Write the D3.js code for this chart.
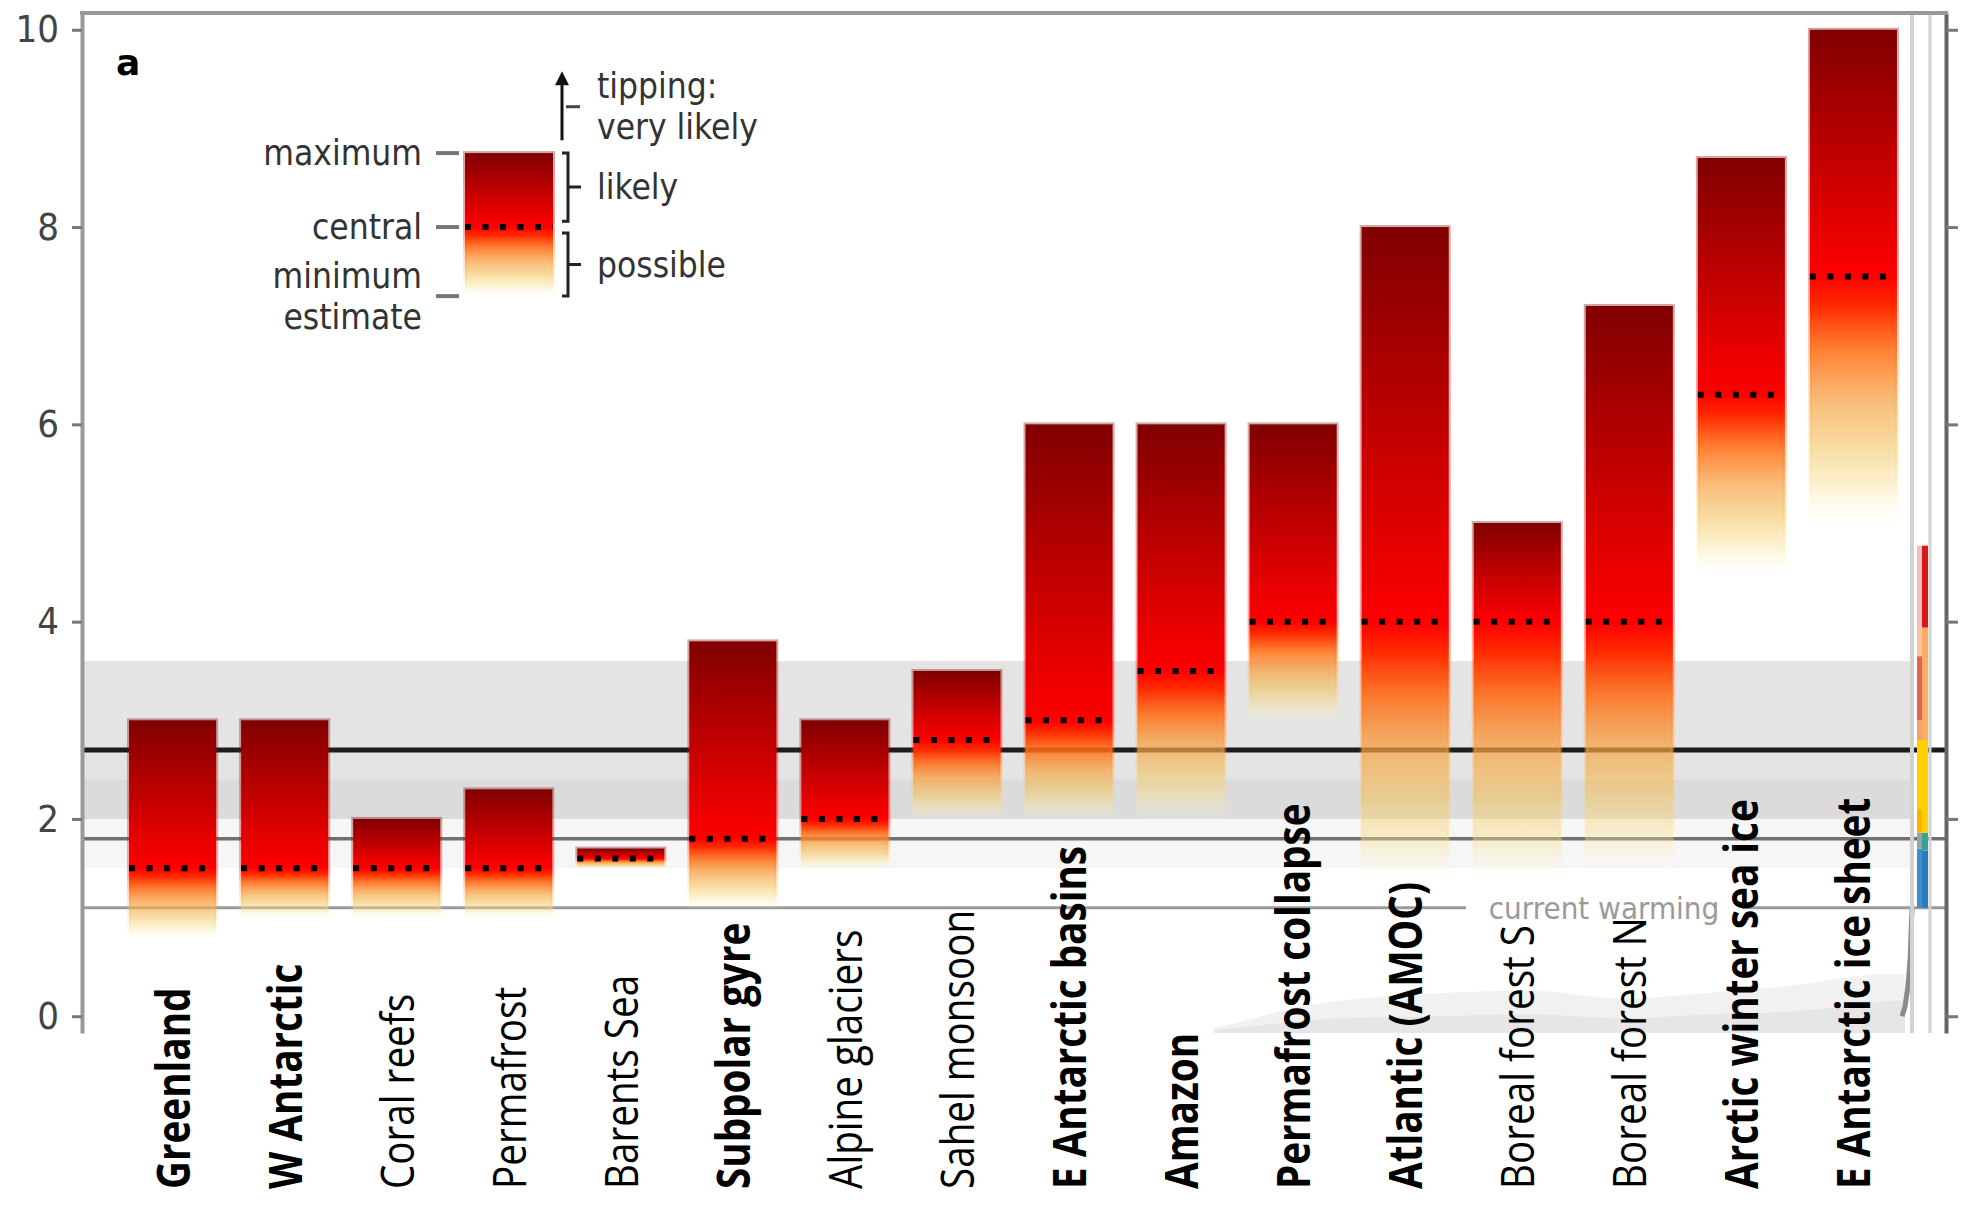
<!DOCTYPE html>
<html>
<head>
<meta charset="utf-8">
<script src="https://cdn.jsdelivr.net/npm/d3@7"></script>
<style>
  html, body { margin: 0; padding: 0; background: #fff; }
  svg { display: block; }
</style>
</head>
<body>
<svg id="chart" width="1970" height="1207"></svg>
<script>
// Tipping elements and their warming thresholds (°C above pre-industrial)
const elements = ["Greenland", "W Antarctic", "Coral reefs", "Permafrost", "Barents Sea",
  "Subpolar gyre", "Alpine glaciers", "Sahel monsoon", "E Antarctic basins", "Amazon",
  "Permafrost collapse", "Atlantic (AMOC)", "Boreal forest S", "Boreal forest N",
  "Arctic winter sea ice", "E Antarctic ice sheet"];
const thresholdMin     = [0.8, 1.0, 1.0, 1.0, 1.5, 1.1, 1.5, 2.0, 2.0, 2.0, 3.0, 1.4, 1.4, 1.5, 4.5, 5.0];
const thresholdCentral = [1.5, 1.5, 1.5, 1.5, 1.6, 1.8, 2.0, 2.8, 3.0, 3.5, 4.0, 4.0, 4.0, 4.0, 6.3, 7.5];
const thresholdMax     = [3.0, 3.0, 2.0, 2.3, 1.7, 3.8, 3.0, 3.5, 6.0, 6.0, 6.0, 8.0, 5.0, 7.2, 8.7, 10.0];
// Global core elements get bold labels
const globalCore = [true, true, false, false, false, true, false, false, true, true, true, true, false, false, true, true];
const yTicks = [0, 2, 4, 6, 8, 10];

// Warming reference levels
const currentWarming = 1.1;
const policyWarming = 2.7;
const pledgeWarming = 1.8;
const policyRange = [2.0, 3.6];
const parisRange = [1.5, 2.4];

// Holocene temperature envelope (age in ka BP) and observed recent rise
const holoceneAge        = [12, 11.3, 10.6, 9.8, 8.2, 6.6, 5.0, 3.4, 1.8, 1.0, 0.2, 0.12];
const holoceneUpper      = [-0.12, -0.02, 0.09, 0.16, 0.23, 0.26, 0.18, 0.24, 0.33, 0.40, 0.43, 0.40];
const holoceneInnerUpper = [-0.14, -0.10, -0.05, -0.02, 0.00, 0.02, -0.02, 0.02, 0.06, 0.11, 0.16, 0.16];
const holoceneLower      = [-0.18, -0.18, -0.18, -0.18, -0.18, -0.18, -0.18, -0.18, -0.18, -0.18, -0.18, -0.18];
const observedAge  = [0.17, 0.12, 0.07, 0.03, 0.0];
const observedTemp = [0.0, 0.1, 0.3, 0.6, 1.1];

// Projected end-of-century warming ranges, two scenario columns [low, high]
const projectionA = [[1.1, 1.7], [1.7, 1.86], [1.86, 2.1], [2.1, 2.8], [2.8, 3.0], [3.0, 3.65], [3.65, 3.94], [3.94, 4.77]];
const projectionB = [[1.1, 1.68], [1.68, 1.86], [1.86, 2.8], [2.8, 3.94], [3.94, 4.77]];

// Legend bar estimates
const legendMax = 8.75, legendCentral = 8.0, legendMin = 7.3;

// ---------------------------------------------------------------
const svg = d3.select("#chart");
const defs = svg.append("defs");

const plotLeft = 82, plotRight = 1946, plotTop = 13, plotBottom = 1033;
const innerRight = 1912;

const y = d3.scaleLinear().domain([-0.17, 10.17]).range([plotBottom, plotTop]);
const x = d3.scaleBand().domain(elements).range([plotLeft, 1944]).paddingInner(0.223).paddingOuter(0.42);
const ageX = d3.scaleLinear().domain([12, 0]).range([1214, innerRight]);

defs.append("clipPath").attr("id", "plotClip")
  .append("rect").attr("x", plotLeft).attr("y", plotTop)
  .attr("width", plotRight - plotLeft).attr("height", plotBottom - plotTop);

const projAColors = ["#3f8fd0", "#8fa6a8", "#ffb000", "#ffd000", "#f5a070", "#e5604f", "#f7c4a0", "#f4bcbc"];
const projBColors = ["#2b7bba", "#3aa092", "#ffd000", "#fdae61", "#d7191c"];

// lower half of each bar: red fading through orange to pale yellow, increasingly transparent
const lowerStops = [
  [0.00, "#ff0000", 1.0],
  [0.12, "#ff2a00", 1.0],
  [0.30, "#ff6a10", 0.85],
  [0.50, "#f7a040", 0.72],
  [0.70, "#f2c460", 0.58],
  [0.85, "#f8e090", 0.42],
  [1.00, "#fff8d0", 0.06]
];

function addGradient(id, lo, mid, hi) {
  const g = defs.append("linearGradient").attr("id", id)
    .attr("gradientUnits", "userSpaceOnUse")
    .attr("x1", 0).attr("x2", 0).attr("y1", y(hi)).attr("y2", y(lo));
  const fc = (y(mid) - y(hi)) / (y(lo) - y(hi));
  g.append("stop").attr("offset", 0).attr("stop-color", "#800000");
  g.append("stop").attr("offset", fc).attr("stop-color", "#ff0000");
  lowerStops.forEach(([f, c, a]) => {
    g.append("stop").attr("offset", fc + f * (1 - fc)).attr("stop-color", c).attr("stop-opacity", a);
  });
}

const plot = svg.append("g").attr("clip-path", "url(#plotClip)");

// shaded warming ranges
plot.append("rect").attr("x", plotLeft).attr("width", innerRight - plotLeft)
  .attr("y", y(policyRange[1])).attr("height", y(policyRange[0]) - y(policyRange[1]))
  .attr("fill", "#000").attr("fill-opacity", 0.105);
plot.append("rect").attr("x", plotLeft).attr("width", innerRight - plotLeft)
  .attr("y", y(parisRange[1])).attr("height", y(parisRange[0]) - y(parisRange[1]))
  .attr("fill", "#000").attr("fill-opacity", 0.035);

// Holocene record
const holoceneArea = d3.area().x((d, i) => ageX(holoceneAge[i])).y0((d, i) => y(holoceneLower[i])).y1(d => y(d)).curve(d3.curveMonotoneX);
plot.append("path").attr("d", holoceneArea(holoceneUpper)).attr("fill", "#f1f1f1");
plot.append("path").attr("d", holoceneArea(holoceneInnerUpper)).attr("fill", "#e6e6e6");

// reference lines
function hline(v, color, width) {
  plot.append("line").attr("x1", plotLeft).attr("x2", plotRight)
    .attr("y1", y(v)).attr("y2", y(v)).attr("stroke", color).attr("stroke-width", width);
}
hline(currentWarming, "#9a9a9a", 3);
hline(pledgeWarming, "#707070", 3.5);
hline(policyWarming, "#1c1c1c", 5);

// observed rise to present
plot.append("path")
  .attr("d", d3.line().x((d, i) => ageX(observedAge[i])).y(d => y(d))(observedTemp))
  .attr("fill", "none").attr("stroke", "#8a8a8a").attr("stroke-width", 5);

// inner frame lines on the right
[[innerRight, "#d2d2d2", 4], [1930, "#d2d2d2", 3]].forEach(([xx, c, w]) => {
  svg.append("line").attr("x1", xx).attr("x2", xx).attr("y1", plotTop).attr("y2", plotBottom)
    .attr("stroke", c).attr("stroke-width", w);
});

// projected warming columns
svg.append("g").selectAll("rect").data(projectionA).join("rect")
  .attr("x", 1917).attr("width", 5)
  .attr("y", d => y(d[1])).attr("height", d => y(d[0]) - y(d[1]))
  .attr("fill", (d, i) => projAColors[i]);
svg.append("g").selectAll("rect").data(projectionB).join("rect")
  .attr("x", 1922).attr("width", 6)
  .attr("y", d => y(d[1])).attr("height", d => y(d[0]) - y(d[1]))
  .attr("fill", (d, i) => projBColors[i]);

// threshold bars
const bars = svg.append("g");
elements.forEach((name, i) => {
  const id = "grad" + i;
  addGradient(id, thresholdMin[i], thresholdCentral[i], thresholdMax[i]);
  const x0 = x(name), bw = x.bandwidth();
  bars.append("rect")
    .attr("x", x0).attr("width", bw)
    .attr("y", y(thresholdMax[i])).attr("height", y(thresholdMin[i]) - y(thresholdMax[i]))
    .attr("fill", `url(#${id})`)
    .attr("stroke", `url(#${id})`).attr("stroke-opacity", 0.35).attr("stroke-width", 4);
  bars.append("line")
    .attr("x1", x0).attr("x2", x0 + bw)
    .attr("y1", y(thresholdCentral[i])).attr("y2", y(thresholdCentral[i]))
    .attr("stroke", "#000").attr("stroke-width", 6).attr("stroke-dasharray", "6 11.5");
});

// "current warming" label
const cwX = 1604;
svg.append("rect").attr("x", cwX - 138).attr("width", 276)
  .attr("y", y(currentWarming) - 17).attr("height", 34).attr("fill", "#fff");
svg.append("text").attr("x", cwX).attr("y", y(currentWarming)).attr("dy", "0.36em")
  .attr("text-anchor", "middle")
  .attr("font-family", "'DejaVu Sans Condensed', 'DejaVu Sans', sans-serif")
  .attr("font-stretch", "condensed")
  .attr("font-size", 31).attr("fill", "#9a9a9a").text("current warming");

// category labels
svg.append("g").selectAll("text").data(elements).join("text")
  .attr("transform", d => `translate(${x(d) + x.bandwidth() / 2},1189) rotate(-90) scale(0.84,1)`)
  .attr("x", 0).attr("y", 17)
  .attr("font-family", "'Open Sans', 'Noto Sans', sans-serif")
  .attr("font-size", 46)
  .attr("font-weight", (d, i) => globalCore[i] ? 700 : 400)
  .attr("fill", "#000")
  .text(d => d);

// axes
const axisFont = "'DejaVu Sans Condensed', 'DejaVu Sans', sans-serif";
const leftAxis = svg.append("g").attr("transform", `translate(${plotLeft},0)`)
  .call(d3.axisLeft(y).tickValues(yTicks).tickSize(10).tickPadding(13).tickSizeOuter(0));
leftAxis.select(".domain").attr("stroke", "#999").attr("stroke-width", 4);
leftAxis.selectAll(".tick line").attr("stroke", "#777").attr("stroke-width", 3);
leftAxis.selectAll(".tick text").attr("font-family", axisFont).attr("font-stretch", "condensed")
  .attr("font-size", 38).attr("fill", "#444");

const rightAxis = svg.append("g").attr("transform", `translate(${plotRight},0)`)
  .call(d3.axisRight(y).tickValues(yTicks).tickSize(12).tickFormat("").tickSizeOuter(0));
rightAxis.select(".domain").attr("stroke", "#666").attr("stroke-width", 4);
rightAxis.selectAll(".tick line").attr("stroke", "#777").attr("stroke-width", 3);

svg.append("line").attr("x1", plotLeft - 2).attr("x2", plotRight + 2)
  .attr("y1", plotTop).attr("y2", plotTop).attr("stroke", "#999").attr("stroke-width", 4);

// panel letter
svg.append("text").attr("x", 116).attr("y", 75)
  .attr("font-family", "'DejaVu Sans', sans-serif").attr("font-weight", 700)
  .attr("font-size", 36).attr("fill", "#000").text("a");

// legend
const lg = svg.append("g");
const lgX = 465, lgW = 88;
const lgFont = "'DejaVu Sans Condensed', 'DejaVu Sans', sans-serif";
addGradient("gradLegend", legendMin, legendCentral, legendMax);
lg.append("rect").attr("x", lgX).attr("width", lgW)
  .attr("y", y(legendMax)).attr("height", y(legendMin) - y(legendMax))
  .attr("fill", "url(#gradLegend)")
  .attr("stroke", "url(#gradLegend)").attr("stroke-opacity", 0.35).attr("stroke-width", 4);
lg.append("line").attr("x1", lgX).attr("x2", lgX + lgW)
  .attr("y1", y(legendCentral)).attr("y2", y(legendCentral))
  .attr("stroke", "#000").attr("stroke-width", 6).attr("stroke-dasharray", "6 11.5");

[legendMax, legendCentral, legendMin].forEach(v => {
  lg.append("line").attr("x1", 436).attr("x2", 459).attr("y1", y(v)).attr("y2", y(v))
    .attr("stroke", "#777").attr("stroke-width", 4);
});

function lgText(tx, ty, str, anchor) {
  lg.append("text").attr("x", tx).attr("y", ty).attr("dy", "0.35em")
    .attr("text-anchor", anchor)
    .attr("font-family", lgFont).attr("font-stretch", "condensed")
    .attr("font-size", 35).attr("fill", "#333").text(str);
}
lgText(422, y(legendMax), "maximum", "end");
lgText(422, y(legendCentral), "central", "end");
lgText(422, y(legendMin) - 20.5, "minimum", "end");
lgText(422, y(legendMin) + 20.5, "estimate", "end");

function bracket(v1, v2) {
  const y1 = y(v1), y2 = y(v2), ym = (y1 + y2) / 2;
  lg.append("path").attr("d", `M562,${y1}H568V${y2}H562M568,${ym}H581`)
    .attr("fill", "none").attr("stroke", "#222").attr("stroke-width", 3);
  return ym;
}
const likelyY = bracket(legendMax, legendCentral + 0.06);
const possibleY = bracket(legendCentral - 0.06, legendMin);
lgText(597, likelyY, "likely", "start");
lgText(597, possibleY, "possible", "start");

// tipping arrow
const arrowBase = y(8.88), arrowTip = y(9.56);
lg.append("line").attr("x1", 562).attr("x2", 562).attr("y1", arrowBase).attr("y2", arrowTip + 10)
  .attr("stroke", "#111").attr("stroke-width", 3);
lg.append("path").attr("d", `M555,${arrowTip + 12}L562,${arrowTip - 2}L569,${arrowTip + 12}Z`).attr("fill", "#111");
const arrowMid = (arrowBase + arrowTip) / 2;
lg.append("line").attr("x1", 566).attr("x2", 580).attr("y1", arrowMid).attr("y2", arrowMid)
  .attr("stroke", "#444").attr("stroke-width", 3);
lgText(597, arrowMid - 20.5, "tipping:", "start");
lgText(597, arrowMid + 20.5, "very likely", "start");
</script>
</body>
</html>
